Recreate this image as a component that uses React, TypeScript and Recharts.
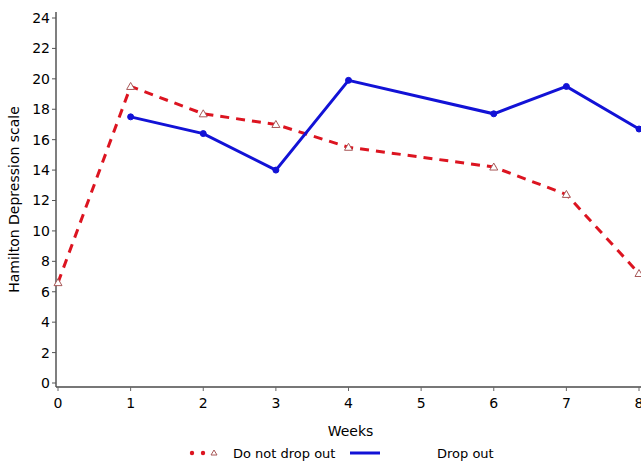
import React from 'react';
import {
  Label,
  Legend,
  Line,
  LineChart,
  XAxis,
  YAxis,
} from 'recharts';

const weeks = [0, 1, 2, 3, 4, 6, 7, 8];
const doNotDropOut = [6.6, 19.5, 17.7, 17.0, 15.5, 14.2, 12.4, 7.2];
const dropOut: (number | null)[] = [null, 17.5, 16.4, 14.0, 19.9, 17.7, 19.5, 16.7];
const xTicks = [0, 1, 2, 3, 4, 5, 6, 7, 8];
const yTicks = [0, 2, 4, 6, 8, 10, 12, 14, 16, 18, 20, 22, 24];

const data = weeks.map((week, i) => ({
  week,
  stay: doNotDropOut[i],
  drop: dropOut[i],
}));

const RED = '#dc1420';
const BLUE = '#1212d6';
const FONT = '"DejaVu Sans", sans-serif';

const Triangle = (props: any) => {
  const { cx, cy } = props;
  if (cx == null || cy == null) return null;
  return (
    <path
      d={`M${cx},${cy - 4} L${cx + 4},${cy + 3} L${cx - 4},${cy + 3} Z`}
      fill="#fff"
      stroke="#a85858"
      strokeWidth={1}
    />
  );
};

const LegendContent = () => (
  <svg width={645} height={20} style={{ display: 'block' }}>
    <circle cx={192} cy={10} r={2.2} fill={RED} />
    <circle cx={203} cy={10} r={2.2} fill={RED} />
    <path d="M214,7 L217,12 L211,12 Z" fill="#fff" stroke="#a85858" strokeWidth={1} />
    <text x={233} y={14.5} fontFamily={FONT} fontSize={13} fill="#000">
      Do not drop out
    </text>
    <line x1={350} y1={10} x2={380} y2={10} stroke={BLUE} strokeWidth={3} />
    <text x={437} y={14.5} fontFamily={FONT} fontSize={13} fill="#000">
      Drop out
    </text>
  </svg>
);

export default function App() {
  return (
    <div
      style={{
        position: 'absolute',
        left: 0,
        top: 0,
        width: 641,
        height: 463,
        overflow: 'hidden',
        background: '#fff',
      }}
    >
      <LineChart
        width={645}
        height={463}
        data={data}
        margin={{ top: 12, right: 0, left: 0, bottom: 0 }}
      >
        <XAxis
          xAxisId="top"
          orientation="top"
          dataKey="week"
          type="number"
          domain={[0, 8]}
          tick={false}
          tickLine={false}
          height={0}
          axisLine={{ stroke: '#000', strokeWidth: 1 }}
        />
        <XAxis
          dataKey="week"
          type="number"
          domain={[0, 8]}
          ticks={xTicks}
          padding={{ left: 2, right: 6 }}
          height={56}
          tickLine={{ stroke: '#666' }}
          tickSize={4}
          axisLine={{ stroke: '#777', strokeWidth: 2 }}
          tick={{ fill: '#000', fontSize: 14, fontFamily: FONT, dy: 5 }}
        >
          <Label
            value="Weeks"
            position="insideBottom"
            offset={7}
            style={{ fill: '#000', fontSize: 14, fontFamily: FONT }}
          />
        </XAxis>
        <YAxis
          type="number"
          domain={[0, 24]}
          ticks={yTicks}
          width={56}
          padding={{ top: 6, bottom: 4 }}
          tickLine={{ stroke: '#555' }}
          tickSize={4}
          axisLine={{ stroke: '#555', strokeWidth: 1.5 }}
          tick={{ fill: '#000', fontSize: 14, fontFamily: FONT }}
        >
          <Label
            value="Hamilton Depression scale"
            angle={-90}
            position="insideLeft"
            offset={14}
            style={{ textAnchor: 'middle', fill: '#000', fontSize: 14, fontFamily: FONT }}
          />
        </YAxis>
        <Legend verticalAlign="bottom" height={20} content={<LegendContent />} />
        <Line
          dataKey="stay"
          stroke={RED}
          strokeWidth={3}
          strokeDasharray="9 7"
          dot={<Triangle />}
          activeDot={false}
          isAnimationActive={false}
        />
        <Line
          dataKey="drop"
          stroke={BLUE}
          strokeWidth={3}
          dot={{ r: 3, fill: BLUE, stroke: BLUE, strokeWidth: 1 }}
          activeDot={false}
          isAnimationActive={false}
        />
      </LineChart>
    </div>
  );
}
